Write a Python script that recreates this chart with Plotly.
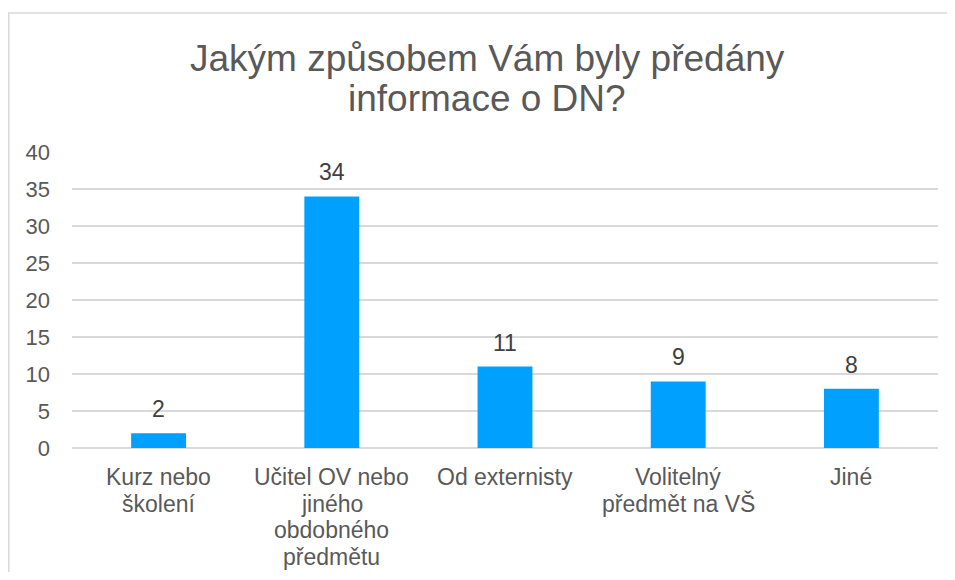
import plotly.graph_objects as go

categories = ["Kurz nebo<br>školení", "Učitel OV nebo<br>jiného<br>obdobného<br>předmětu",
              "Od externisty", "Volitelný<br>předmět na VŠ", "Jiné"]
values = [2, 34, 11, 9, 8]
y_ticks = [0, 5, 10, 15, 20, 25, 30, 35, 40]
title_lines = ["Jakým způsobem Vám byly předány", "informace o DN?"]

FONT = "Liberation Sans, Arial, sans-serif"
GREY = "#595959"

fig = go.Figure(go.Bar(
    x=categories, y=values,
    marker=dict(color="#00A0FF", line=dict(width=0)),
    width=0.317,
))

annotations = []
# data labels
for c, v in zip(categories, values):
    annotations.append(dict(x=c, y=v, xref="x", yref="y", text=str(v), showarrow=False,
                            yanchor="middle", yshift=24,
                            font=dict(size=23, color="#404040", family=FONT)))
# category labels (tight line spacing)
for c in categories:
    for i, line in enumerate(c.split("<br>")):
        annotations.append(dict(x=c, y=0, xref="x", yref="y", text=line, showarrow=False,
                                yanchor="middle", yshift=-(29 + i * 26.7),
                                font=dict(size=23, color=GREY, family=FONT)))
# title lines
for i, line in enumerate(title_lines):
    annotations.append(dict(x=(479 - 64) / 866, y=1, xref="paper", yref="paper", text=line,
                            showarrow=False, xanchor="center", yanchor="middle",
                            yshift=94 - i * 40,
                            font=dict(size=37, color=GREY, family=FONT)))

# chart-area border: left and top edges only (the rest lies outside the picture)
bx0 = (0.75 - 64) / 866
by1 = (440 - 5) / 296
border_path = f"M {bx0},-0.6 L {bx0},{by1} L 1.2,{by1}"

fig.update_layout(
    width=939, height=564,
    margin=dict(l=64, r=9, t=144, b=124),
    paper_bgcolor="white", plot_bgcolor="white",
    showlegend=False,
    font=dict(family=FONT, color=GREY),
    annotations=annotations,
    shapes=[dict(type="path", xref="paper", yref="paper", path=border_path,
                 line=dict(color="#D9D9D9", width=1.5), layer="below")],
)
fig.update_yaxes(
    range=[0, 40], tickvals=y_ticks, showgrid=True, gridcolor="#D9D9D9", gridwidth=1.5,
    zeroline=True, zerolinecolor="#D9D9D9", zerolinewidth=1.5,
    tickfont=dict(size=22, color=GREY, family=FONT),
    ticklabelstandoff=21, showline=False,
)
fig.update_xaxes(showticklabels=False, showline=False)

fig.write_html("out.html")
